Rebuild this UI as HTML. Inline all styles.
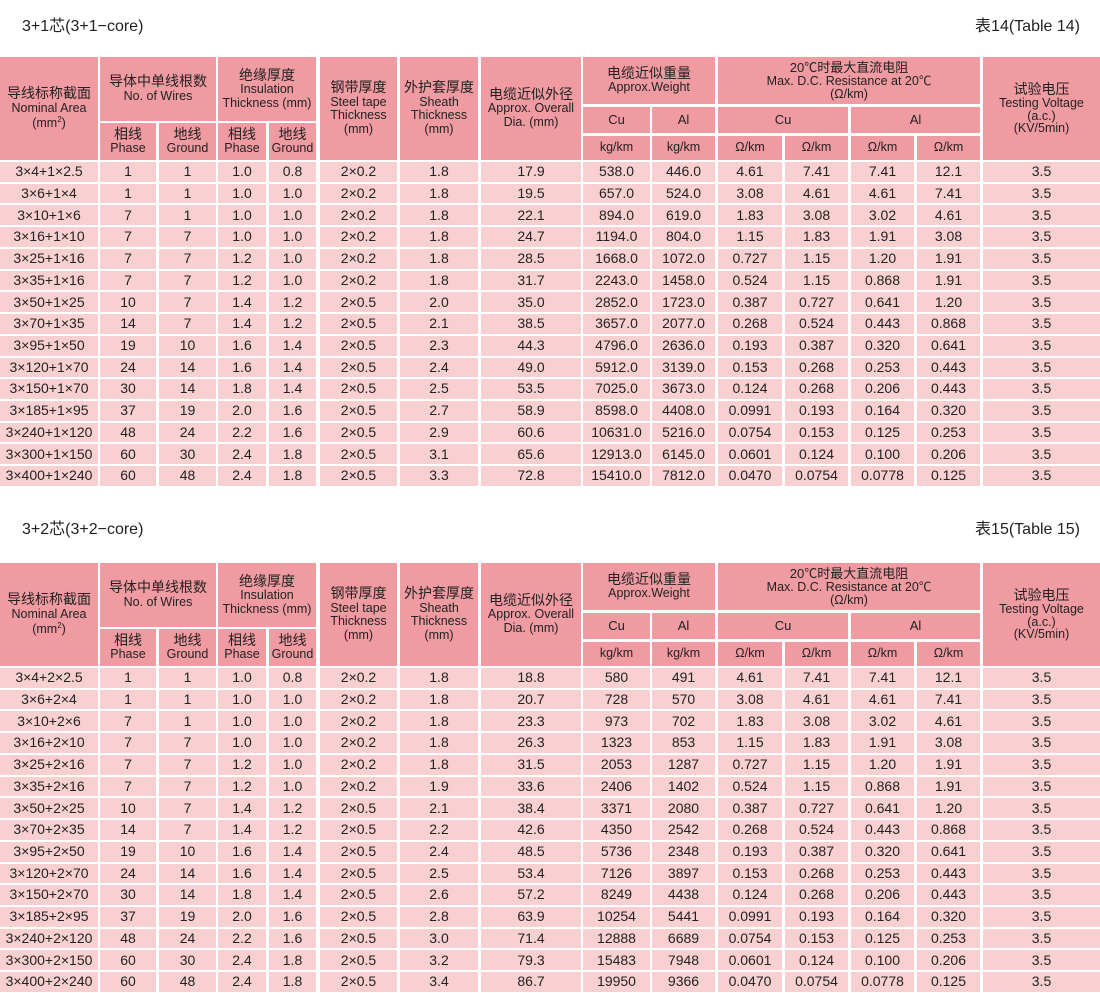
<!DOCTYPE html>
<html><head><meta charset="utf-8"><style>
body{margin:0;width:1100px;height:993px;background:#fff;position:relative;overflow:hidden;font-family:"Liberation Sans","Noto Sans CJK SC",sans-serif;color:#222}
.c{position:absolute;display:flex;flex-direction:column;align-items:center;justify-content:center;text-align:center;line-height:1.1}
.h{background:#ef9ba1}
.d{background:#f9d0d1;font-size:14px}
.zh{font-size:14px}
.en{font-size:12.5px}
.t{position:absolute;font-size:16px}
</style></head><body>
<script>
const L=[0,100,159,218,269,320,400,481,583,652,718,785,851,917,983];
const R=[98,156,216,266,316,397,478,581,650,715,782,848,914,980,1100];
const root=document.body;
function cell(x1,x2,y1,y2,cls,html){const d=document.createElement('div');d.className='c '+cls;d.style.left=x1+'px';d.style.width=(x2-x1)+'px';d.style.top=y1+'px';d.style.height=(y2-y1)+'px';d.innerHTML=html;root.appendChild(d);}
function z(a,b){return '<span class="zh">'+a+'</span>'+(b?'<span class="en">'+b+'</span>':'');}
const t1=[
["3×4+1×2.5",1,1,"1.0","0.8","2×0.2","1.8","17.9","538.0","446.0","4.61","7.41","7.41","12.1"],
["3×6+1×4",1,1,"1.0","1.0","2×0.2","1.8","19.5","657.0","524.0","3.08","4.61","4.61","7.41"],
["3×10+1×6",7,1,"1.0","1.0","2×0.2","1.8","22.1","894.0","619.0","1.83","3.08","3.02","4.61"],
["3×16+1×10",7,7,"1.0","1.0","2×0.2","1.8","24.7","1194.0","804.0","1.15","1.83","1.91","3.08"],
["3×25+1×16",7,7,"1.2","1.0","2×0.2","1.8","28.5","1668.0","1072.0","0.727","1.15","1.20","1.91"],
["3×35+1×16",7,7,"1.2","1.0","2×0.2","1.8","31.7","2243.0","1458.0","0.524","1.15","0.868","1.91"],
["3×50+1×25",10,7,"1.4","1.2","2×0.5","2.0","35.0","2852.0","1723.0","0.387","0.727","0.641","1.20"],
["3×70+1×35",14,7,"1.4","1.2","2×0.5","2.1","38.5","3657.0","2077.0","0.268","0.524","0.443","0.868"],
["3×95+1×50",19,10,"1.6","1.4","2×0.5","2.3","44.3","4796.0","2636.0","0.193","0.387","0.320","0.641"],
["3×120+1×70",24,14,"1.6","1.4","2×0.5","2.4","49.0","5912.0","3139.0","0.153","0.268","0.253","0.443"],
["3×150+1×70",30,14,"1.8","1.4","2×0.5","2.5","53.5","7025.0","3673.0","0.124","0.268","0.206","0.443"],
["3×185+1×95",37,19,"2.0","1.6","2×0.5","2.7","58.9","8598.0","4408.0","0.0991","0.193","0.164","0.320"],
["3×240+1×120",48,24,"2.2","1.6","2×0.5","2.9","60.6","10631.0","5216.0","0.0754","0.153","0.125","0.253"],
["3×300+1×150",60,30,"2.4","1.8","2×0.5","3.1","65.6","12913.0","6145.0","0.0601","0.124","0.100","0.206"],
["3×400+1×240",60,48,"2.4","1.8","2×0.5","3.3","72.8","15410.0","7812.0","0.0470","0.0754","0.0778","0.125"]];
const t2=[
["3×4+2×2.5",1,1,"1.0","0.8","2×0.2","1.8","18.8","580","491","4.61","7.41","7.41","12.1"],
["3×6+2×4",1,1,"1.0","1.0","2×0.2","1.8","20.7","728","570","3.08","4.61","4.61","7.41"],
["3×10+2×6",7,1,"1.0","1.0","2×0.2","1.8","23.3","973","702","1.83","3.08","3.02","4.61"],
["3×16+2×10",7,7,"1.0","1.0","2×0.2","1.8","26.3","1323","853","1.15","1.83","1.91","3.08"],
["3×25+2×16",7,7,"1.2","1.0","2×0.2","1.8","31.5","2053","1287","0.727","1.15","1.20","1.91"],
["3×35+2×16",7,7,"1.2","1.0","2×0.2","1.9","33.6","2406","1402","0.524","1.15","0.868","1.91"],
["3×50+2×25",10,7,"1.4","1.2","2×0.5","2.1","38.4","3371","2080","0.387","0.727","0.641","1.20"],
["3×70+2×35",14,7,"1.4","1.2","2×0.5","2.2","42.6","4350","2542","0.268","0.524","0.443","0.868"],
["3×95+2×50",19,10,"1.6","1.4","2×0.5","2.4","48.5","5736","2348","0.193","0.387","0.320","0.641"],
["3×120+2×70",24,14,"1.6","1.4","2×0.5","2.5","53.4","7126","3897","0.153","0.268","0.253","0.443"],
["3×150+2×70",30,14,"1.8","1.4","2×0.5","2.6","57.2","8249","4438","0.124","0.268","0.206","0.443"],
["3×185+2×95",37,19,"2.0","1.6","2×0.5","2.8","63.9","10254","5441","0.0991","0.193","0.164","0.320"],
["3×240+2×120",48,24,"2.2","1.6","2×0.5","3.0","71.4","12888","6689","0.0754","0.153","0.125","0.253"],
["3×300+2×150",60,30,"2.4","1.8","2×0.5","3.2","79.3","15483","7948","0.0601","0.124","0.100","0.206"],
["3×400+2×240",60,48,"2.4","1.8","2×0.5","3.4","86.7","19950","9366","0.0470","0.0754","0.0778","0.125"]];
function table(o,data,t1txt,t2txt){
 const ty=(o+12-(o?3:0))+'px';
 const tt=document.createElement('div');tt.className='t';tt.style.left='22px';tt.style.top=ty;tt.textContent=t1txt;root.appendChild(tt);
 const tr=document.createElement('div');tr.className='t';tr.style.right='20px';tr.style.top=ty;tr.textContent=t2txt;root.appendChild(tr);
 const a=o+57,b=o+121,b2=o+123,e=o+160;
 cell(L[0],R[0],a,e,'h',z('导线标称截面','Nominal Area')+'<span class="en">(mm<sup style="font-size:8px">2</sup>)</span>');
 cell(L[1],R[2],a,b,'h',z('导体中单线根数','No. of Wires'));
 cell(L[3],R[4],a,b,'h',z('绝缘厚度','Insulation<br>Thickness (mm)'));
 cell(L[1],R[1],b2,e,'h',z('相线','Phase'));cell(L[2],R[2],b2,e,'h',z('地线','Ground'));
 cell(L[3],R[3],b2,e,'h',z('相线','Phase'));cell(L[4],R[4],b2,e,'h',z('地线','Ground'));
 cell(L[5],R[5],a,e,'h',z('钢带厚度','Steel tape<br>Thickness<br>(mm)'));
 cell(L[6],R[6],a,e,'h',z('外护套厚度','Sheath<br>Thickness<br>(mm)'));
 cell(L[7],R[7],a,e,'h',z('电缆近似外径','Approx. Overall<br>Dia. (mm)'));
 cell(L[8],R[9],a,o+104,'h',z('电缆近似重量','Approx.Weight'));
 cell(L[10],R[13],a,o+104,'h','<span class="zh" style="font-size:13px">20℃时最大直流电阻</span><span class="en" style="line-height:1">Max. D.C. Resistance at 20℃<br>(Ω/km)</span>');
 cell(L[14],R[14],a,e,'h','<span class="zh">试验电压</span><span class="en" style="line-height:1">Testing Voltage<br>(a.c.)<br>(KV/5min)</span>');
 cell(L[8],R[8],o+107,o+133,'h','<span class="en" style="font-size:13px">Cu</span>');
 cell(L[9],R[9],o+107,o+133,'h','<span class="en" style="font-size:13px">Al</span>');
 cell(L[10],R[11],o+107,o+133,'h','<span class="en" style="font-size:13px">Cu</span>');
 cell(L[12],R[13],o+107,o+133,'h','<span class="en" style="font-size:13px">Al</span>');
 ['kg/km','kg/km','Ω/km','Ω/km','Ω/km','Ω/km'].forEach((s,i)=>cell(L[8+i],R[8+i],o+136,e,'h','<span class="en">'+s+'</span>'));
 data.forEach((r,i)=>{const y=o+162+i*21.73;const row=r.concat(['3.5']);row.forEach((v,j)=>cell(L[j],R[j],y,y+19.7,'d',v));});
}
table(0,t1,'3+1芯(3+1−core)','表14(Table 14)');
table(506,t2,'3+2芯(3+2−core)','表15(Table 15)');
</script>
</body></html>
